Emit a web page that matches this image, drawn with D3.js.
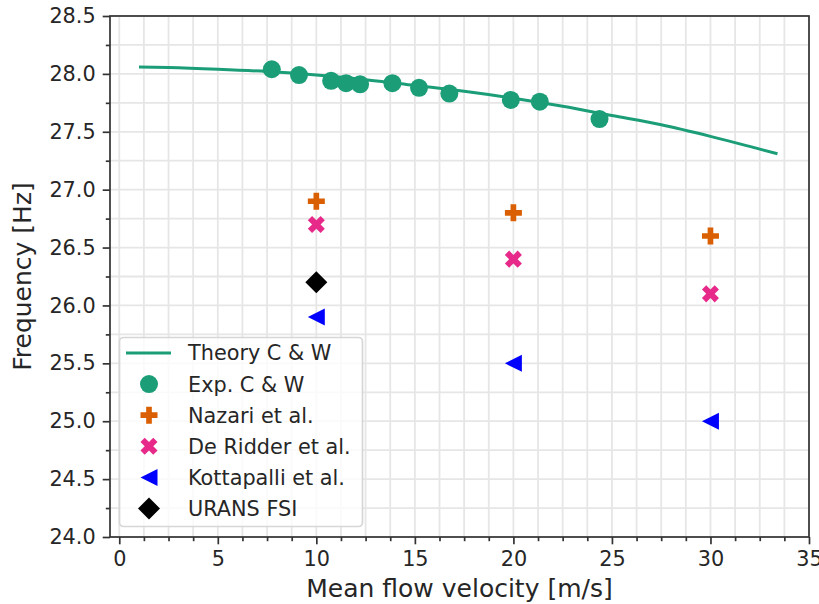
<!DOCTYPE html>
<html>
<head>
<meta charset="utf-8">
<script src="https://cdn.jsdelivr.net/npm/d3@7/dist/d3.min.js"></script>
<style>
  html, body { margin: 0; padding: 0; background: #fff; }
  svg { display: block; font-family: "DejaVu Sans", sans-serif; }
</style>
</head>
<body>
<svg id="chart" width="819" height="604"></svg>
<script>
// Theory curve (Chen & Wambsganss), frequency vs mean flow velocity
const theoryU = [1.0, 2.5, 5.0, 7.5, 10.0, 12.5, 15.0, 17.5, 20.0, 22.5, 25.0, 27.5, 30.0, 32.5, 33.4];
const theoryF = [28.06, 28.055, 28.04, 28.02, 27.99, 27.95, 27.9, 27.85, 27.79, 27.72, 27.64, 27.56, 27.46, 27.35, 27.31];

// Experimental points (Chen & Wambsganss)
const expU = [7.74, 9.12, 10.75, 11.51, 12.22, 13.86, 15.21, 16.75, 19.87, 21.34, 24.37];
const expF = [28.04, 27.99, 27.94, 27.92, 27.91, 27.92, 27.88, 27.83, 27.775, 27.76, 27.61];

// Other studies
const nazariU = [10, 20, 30];
const nazariF = [26.9, 26.8, 26.6];
const ridderU = [10, 20, 30];
const ridderF = [26.7, 26.4, 26.1];
const kottaU = [10, 20, 30];
const kottaF = [25.9, 25.5, 25.0];
const uransU = [10];
const uransF = [26.2];

const xTicks = [0, 5, 10, 15, 20, 25, 30, 35];
const yTicks = [24.0, 24.5, 25.0, 25.5, 26.0, 26.5, 27.0, 27.5, 28.0, 28.5];

const legendLabels = ["Theory C & W", "Exp. C & W", "Nazari et al.", "De Ridder et al.", "Kottapalli et al.", "URANS FSI"];

const colors = {
  theory: "#1b9e77",
  exp: "#1b9e77",
  nazari: "#d95f02",
  ridder: "#e7298a",
  kotta: "#0000ff",
  urans: "#000000"
};

const svg = d3.select("#chart");
const margin = { left: 110, right: 10, top: 16, bottom: 67 };
const W = 819, H = 604;
const x = d3.scaleLinear().domain([-0.47, 35]).range([margin.left, W - margin.right]);
const y = d3.scaleLinear().domain([24.0, 28.5]).range([H - margin.bottom, margin.top]);

const x0 = margin.left, x1 = W - margin.right, y0 = H - margin.bottom, y1 = margin.top;

// grid: major and minor lines
const xMinor = d3.range(0, 35.01, 1.25);
const yMinor = d3.range(24.0, 28.51, 0.25);
const grid = svg.append("g");
grid.selectAll("line.gx").data(xMinor).join("line")
  .attr("x1", d => x(d)).attr("x2", d => x(d)).attr("y1", y1).attr("y2", y0)
  .attr("stroke", "#e6e6e6").attr("stroke-width", 1.8);
grid.selectAll("line.gy").data(yMinor).join("line")
  .attr("y1", d => y(d)).attr("y2", d => y(d)).attr("x1", x0).attr("x2", x1)
  .attr("stroke", "#e6e6e6").attr("stroke-width", 1.8);

// marker shapes
function plusPath(s) {
  const a = s / 2, b = s / 6;
  return `M${-b},${-a}H${b}V${-b}H${a}V${b}H${b}V${a}H${-b}V${b}H${-a}V${-b}H${-b}Z`;
}
function xPath(s) {
  const p = d3.path();
  const a = s / 2, b = s / 6;
  // plus rotated 45 degrees
  const pts = [[-b,-a],[b,-a],[b,-b],[a,-b],[a,b],[b,b],[b,a],[-b,a],[-b,b],[-a,b],[-a,-b],[-b,-b]];
  const c = Math.SQRT1_2;
  pts.forEach((q, i) => {
    const rx = (q[0] - q[1]) * c * 0.95, ry = (q[0] + q[1]) * c * 0.95;
    if (i === 0) p.moveTo(rx, ry); else p.lineTo(rx, ry);
  });
  p.closePath();
  return p.toString();
}
function triLeftPath(s) {
  const a = s / 2;
  return `M${-a},0L${a},${-a}L${a},${a}Z`;
}
function diamondPath(s) {
  const a = s / 2;
  return `M0,${-a}L${a},0L0,${a}L${-a},0Z`;
}

const markers = {
  exp: g => g.append("circle").attr("r", 9).attr("fill", colors.exp),
  nazari: g => g.append("path").attr("d", plusPath(17)).attr("fill", colors.nazari),
  ridder: g => g.append("path").attr("d", xPath(19)).attr("fill", colors.ridder),
  kotta: g => g.append("path").attr("d", triLeftPath(17)).attr("fill", colors.kotta),
  urans: g => g.append("path").attr("d", diamondPath(22)).attr("fill", colors.urans)
};

const plot = svg.append("g");

// theory line
plot.append("path")
  .datum(d3.zip(theoryU, theoryF))
  .attr("d", d3.line().x(d => x(d[0])).y(d => y(d[1])).curve(d3.curveMonotoneX))
  .attr("fill", "none").attr("stroke", colors.theory).attr("stroke-width", 3);

function scatter(us, fs, key) {
  d3.zip(us, fs).forEach(d => {
    const g = plot.append("g").attr("transform", `translate(${x(d[0])},${y(d[1])})`);
    markers[key](g);
  });
}
scatter(expU, expF, "exp");
scatter(nazariU, nazariF, "nazari");
scatter(ridderU, ridderF, "ridder");
scatter(kottaU, kottaF, "kotta");
scatter(uransU, uransF, "urans");

// axes
const axisColor = "#333";
const xAxis = svg.append("g").attr("transform", `translate(0,${y0})`)
  .call(d3.axisBottom(x).tickValues(xTicks).tickFormat(d3.format("d")).tickSize(7.3).tickPadding(7));
const xAxisMinor = svg.append("g").attr("transform", `translate(0,${y0})`)
  .call(d3.axisBottom(x).tickValues(xMinor.filter(v => v % 5 !== 0)).tickFormat("").tickSize(4.2));
const yAxis = svg.append("g").attr("transform", `translate(${x0},0)`)
  .call(d3.axisLeft(y).tickValues(yTicks).tickFormat(d3.format(".1f")).tickSize(7.3).tickPadding(7));
const yAxisMinor = svg.append("g").attr("transform", `translate(${x0},0)`)
  .call(d3.axisLeft(y).tickValues(yMinor.filter(v => Math.abs((v * 2) % 1) > 0.01)).tickFormat("").tickSize(4.2));

[xAxis, xAxisMinor, yAxis, yAxisMinor].forEach(a => {
  a.select(".domain").remove();
  a.selectAll("line").attr("stroke", axisColor).attr("stroke-width", 1.7);
  a.selectAll("text").attr("fill", "#262626").attr("font-size", 20.8)
    .attr("font-family", "DejaVu Sans, sans-serif");
});

// frame
svg.append("rect").attr("x", x0).attr("y", y1).attr("width", x1 - x0).attr("height", y0 - y1)
  .attr("fill", "none").attr("stroke", axisColor).attr("stroke-width", 1.7);

// axis titles
svg.append("text").attr("x", (x0 + x1) / 2).attr("y", 597)
  .attr("text-anchor", "middle").attr("font-size", 25).attr("fill", "#262626")
  .text("Mean flow velocity [m/s]");
svg.append("text").attr("transform", `translate(31,${(y0 + y1) / 2}) rotate(-90)`)
  .attr("text-anchor", "middle").attr("font-size", 25).attr("fill", "#262626")
  .text("Frequency [Hz]");

// legend
const leg = svg.append("g");
leg.append("rect").attr("x", 119.5).attr("y", 337.5).attr("width", 243).attr("height", 189).attr("rx", 4)
  .attr("fill", "#fff").attr("fill-opacity", 0.8).attr("stroke", "#d6d6d6").attr("stroke-width", 1.7);
const legendKeys = ["theory", "exp", "nazari", "ridder", "kotta", "urans"];
legendKeys.forEach((k, i) => {
  const cy = 353 + i * 31.1;
  const g = leg.append("g").attr("transform", `translate(149,${cy})`);
  if (k === "theory") {
    g.append("line").attr("x1", -23).attr("x2", 22).attr("y1", 0).attr("y2", 0)
      .attr("stroke", colors.theory).attr("stroke-width", 3);
  } else {
    markers[k](g);
  }
  leg.append("text").attr("x", 188).attr("y", cy).attr("dy", "0.36em")
    .attr("font-size", 20.8).attr("fill", "#262626").text(legendLabels[i]);
});
</script>
</body>
</html>
